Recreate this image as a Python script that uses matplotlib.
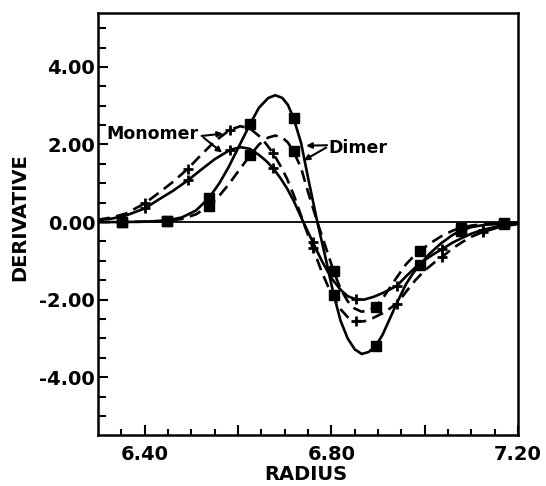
import matplotlib
matplotlib.use("Agg")
import matplotlib.pyplot as plt
from matplotlib.ticker import FixedLocator, FixedFormatter

plt.rcParams['font.family'] = ['DejaVu Sans']
plt.rcParams['axes.unicode_minus'] = False

# ---- data ----
# Dimer, solid line (squares)
dimer_solid_x = [6.30, 6.351, 6.40, 6.448, 6.48, 6.51, 6.537, 6.56, 6.58, 6.60, 6.626, 6.645,
                 6.665, 6.68, 6.695, 6.707, 6.719, 6.735, 6.75, 6.77, 6.79, 6.805, 6.82, 6.835,
                 6.85, 6.865, 6.88, 6.895, 6.91, 6.925, 6.94, 6.96, 6.975, 6.99, 7.01, 7.035,
                 7.06, 7.078, 7.10, 7.13, 7.169, 7.20]
dimer_solid_y = [0.00, 0.00, 0.01, 0.04, 0.12, 0.30, 0.61, 1.00, 1.42, 1.90, 2.53, 2.95,
                 3.20, 3.27, 3.20, 3.02, 2.68, 2.05, 1.15, 0.00, -1.05, -1.87, -2.55, -3.00,
                 -3.28, -3.40, -3.35, -3.20, -2.90, -2.50, -2.10, -1.60, -1.32, -1.10, -0.82, -0.55,
                 -0.33, -0.22, -0.13, -0.07, -0.04, -0.02]

# Dimer, dashed line (squares)
dimer_dash_x = dimer_solid_x
dimer_dash_y = [0.00, 0.00, 0.01, 0.03, 0.08, 0.20, 0.41, 0.68, 0.97, 1.30, 1.72, 2.00,
                2.18, 2.23, 2.18, 2.05, 1.82, 1.40, 0.78, 0.00, -0.72, -1.27, -1.73, -2.04,
                -2.23, -2.31, -2.28, -2.18, -1.97, -1.70, -1.43, -1.09, -0.90, -0.75, -0.56, -0.37,
                -0.22, -0.15, -0.09, -0.05, -0.03, -0.01]

# Monomer curves (crosses)
mono_x = [6.30, 6.33, 6.36, 6.40, 6.43, 6.46, 6.493, 6.52, 6.55, 6.583, 6.605, 6.625,
          6.645, 6.66, 6.675, 6.69, 6.705, 6.72, 6.74, 6.76, 6.78, 6.80, 6.82, 6.835,
          6.852, 6.87, 6.89, 6.91, 6.925, 6.941, 6.96, 6.98, 7.00, 7.02, 7.037, 7.06,
          7.08, 7.10, 7.124, 7.16, 7.20]
mono_dash_y = [0.06, 0.12, 0.22, 0.48, 0.75, 1.03, 1.38, 1.72, 2.08, 2.38, 2.47, 2.42,
               2.22, 2.02, 1.78, 1.47, 1.12, 0.68, 0.00, -0.66, -1.30, -1.85, -2.25, -2.45,
               -2.55, -2.56, -2.47, -2.35, -2.23, -2.10, -1.80, -1.50, -1.25, -1.05, -0.90, -0.68,
               -0.52, -0.38, -0.26, -0.13, -0.05]
mono_solid_y = [0.05, 0.09, 0.17, 0.35, 0.58, 0.80, 1.08, 1.34, 1.62, 1.86, 1.93, 1.89,
                1.73, 1.58, 1.39, 1.15, 0.87, 0.53, 0.00, -0.51, -1.01, -1.44, -1.75, -1.91,
                -1.99, -2.00, -1.93, -1.83, -1.74, -1.64, -1.40, -1.17, -0.98, -0.82, -0.70, -0.53,
                -0.41, -0.30, -0.20, -0.10, -0.04]

# marker positions
sq_x = [6.351, 6.448, 6.537, 6.626, 6.719, 6.805, 6.895, 6.99, 7.078, 7.169]
sq_solid_y = [0.00, 0.04, 0.61, 2.53, 2.68, -1.87, -3.20, -1.10, -0.22, -0.04]
sq_dash_y = [0.00, 0.03, 0.41, 1.72, 1.82, -1.27, -2.18, -0.75, -0.15, -0.03]
cr_x = [6.40, 6.493, 6.583, 6.675, 6.76, 6.852, 6.941, 7.037, 7.124]
cr_solid_y = [0.35, 1.08, 1.86, 1.39, -0.51, -1.99, -1.64, -0.70, -0.20]
cr_dash_y = [0.48, 1.38, 2.38, 1.78, -0.66, -2.55, -2.10, -0.90, -0.26]

x_major = [6.40, 6.60, 6.80, 7.00, 7.20]
x_major_labels = ['6.40', '', '6.80', '', '7.20']
x_minor = [6.35, 6.45, 6.50, 6.55, 6.65, 6.70, 6.75, 6.85, 6.90, 6.95, 7.05, 7.10, 7.15]
y_major = [-4.0, -2.0, 0.0, 2.0, 4.0]
y_major_labels = ['-4.00', '-2.00', '0.00', '2.00', '4.00']
y_minor = [-5.0, -4.5, -3.5, -3.0, -2.5, -1.5, -1.0, -0.5, 0.5, 1.0, 1.5, 2.5, 3.0, 3.5, 4.5, 5.0]

# ---- figure ----
fig = plt.figure(figsize=(5.46, 4.86), dpi=100)
ax = fig.add_axes([98/546, 1-435/486, 420/546, 422/486])

lw = 1.9
dash = (0, (4.5, 2.5))
ax.axhline(0, color='black', lw=1.3, zorder=1)
ax.plot(dimer_solid_x, dimer_solid_y, color='black', lw=lw)
ax.plot(dimer_dash_x, dimer_dash_y, color='black', lw=lw, linestyle=dash)
ax.plot(mono_x, mono_solid_y, color='black', lw=lw)
ax.plot(mono_x, mono_dash_y, color='black', lw=lw, linestyle=dash)

ax.plot(sq_x, sq_solid_y, linestyle='none', marker='s', ms=6.5, color='black')
ax.plot(sq_x, sq_dash_y, linestyle='none', marker='s', ms=6.5, color='black')
ax.plot(cr_x, cr_solid_y, linestyle='none', marker='+', ms=7, mew=2.0, color='black')
ax.plot(cr_x, cr_dash_y, linestyle='none', marker='+', ms=7, mew=2.0, color='black')

ax.set_xlim(6.30, 7.20)
ax.set_ylim(-5.49, 5.39)

ax.xaxis.set_major_locator(FixedLocator(x_major))
ax.xaxis.set_major_formatter(FixedFormatter(x_major_labels))
ax.xaxis.set_minor_locator(FixedLocator(x_minor))
ax.yaxis.set_major_locator(FixedLocator(y_major))
ax.yaxis.set_major_formatter(FixedFormatter(y_major_labels))
ax.yaxis.set_minor_locator(FixedLocator(y_minor))

ax.tick_params(axis='x', which='major', direction='in', length=7, width=1.5, pad=7,
               labelsize=14)
ax.tick_params(axis='x', which='minor', direction='in', length=4.5, width=1.5)
ax.tick_params(axis='y', which='major', direction='in', length=7, width=1.5, pad=2,
               labelsize=14)
ax.tick_params(axis='y', which='minor', direction='in', length=6, width=1.5)
for lab in ax.get_xticklabels() + ax.get_yticklabels():
    lab.set_fontweight('bold')

for s in ax.spines.values():
    s.set_linewidth(1.8)

# annotations
ax.text(6.318, 2.26, 'Monomer', fontsize=12.5, fontweight='bold', ha='left', va='center')
arrow = dict(arrowstyle='-|>', color='black', lw=1.5, mutation_scale=8, shrinkA=0, shrinkB=0)
ax.annotate('', xy=(6.568, 2.28), xytext=(6.522, 2.22), arrowprops=arrow)
ax.annotate('', xy=(6.566, 1.79), xytext=(6.526, 2.18), arrowprops=arrow)
ax.text(6.793, 1.90, 'Dimer', fontsize=12.5, fontweight='bold', ha='left', va='center')
ax.annotate('', xy=(6.746, 1.97), xytext=(6.791, 1.98), arrowprops=arrow)
ax.annotate('', xy=(6.741, 1.59), xytext=(6.789, 1.92), arrowprops=arrow)

fig.text(20/546, 1-217/486, 'DERIVATIVE', rotation=90, ha='center', va='center',
         fontsize=14, fontweight='bold')
fig.text(306/546, 1-474/486, 'RADIUS', ha='center', va='center',
         fontsize=14, fontweight='bold')

fig.savefig('out.png', dpi=100)
